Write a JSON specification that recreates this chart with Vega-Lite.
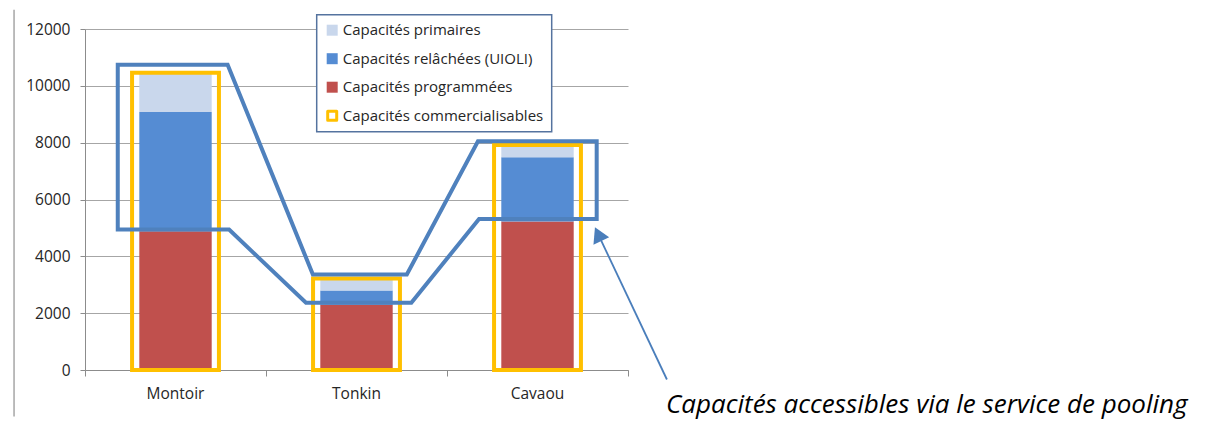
{
  "$schema": "https://vega.github.io/schema/vega-lite/v6.json",
  "width": 543,
  "height": 341,
  "autosize": {"type": "none"},
  "padding": {"left": 85, "top": 29, "right": 580, "bottom": 51},
  "background": "white",
  "config": {
    "view": {"stroke": null},
    "font": "Open Sans",
    "axis": {
      "labelFont": "Open Sans",
      "labelColor": "#262626",
      "domainColor": "#8C8C8C",
      "tickColor": "#8C8C8C",
      "gridColor": "#A6A6A6",
      "title": null
    }
  },
  "datasets": {
    "bars": [
      {"site": "Montoir", "serie": "Capacités programmées", "k": 1, "value": 4880},
      {"site": "Montoir", "serie": "Capacités relâchées (UIOLI)", "k": 2, "value": 4200},
      {"site": "Montoir", "serie": "Capacités primaires", "k": 3, "value": 1370},
      {"site": "Tonkin", "serie": "Capacités programmées", "k": 1, "value": 2300},
      {"site": "Tonkin", "serie": "Capacités relâchées (UIOLI)", "k": 2, "value": 500},
      {"site": "Tonkin", "serie": "Capacités primaires", "k": 3, "value": 430},
      {"site": "Cavaou", "serie": "Capacités programmées", "k": 1, "value": 5230},
      {"site": "Cavaou", "serie": "Capacités relâchées (UIOLI)", "k": 2, "value": 2260},
      {"site": "Cavaou", "serie": "Capacités primaires", "k": 3, "value": 420}
    ],
    "comm": [
      {"site": "Montoir", "total": 10460},
      {"site": "Tonkin", "total": 3220},
      {"site": "Cavaou", "total": 7915}
    ],
    "poly": [
      {"i": 1, "x": 0.181, "y": 10746},
      {"i": 2, "x": 0.788, "y": 10746},
      {"i": 3, "x": 1.259, "y": 3359},
      {"i": 4, "x": 1.778, "y": 3359},
      {"i": 5, "x": 2.171, "y": 8048},
      {"i": 6, "x": 2.827, "y": 8048},
      {"i": 7, "x": 2.827, "y": 5318},
      {"i": 8, "x": 2.177, "y": 5318},
      {"i": 9, "x": 1.803, "y": 2364},
      {"i": 10, "x": 1.221, "y": 2364},
      {"i": 11, "x": 0.796, "y": 4942},
      {"i": 12, "x": 0.181, "y": 4942},
      {"i": 13, "x": 0.181, "y": 10746}
    ],
    "arrow": [
      {"i": 1, "x": 3.215, "y": -334},
      {"i": 2, "x": 2.835, "y": 4780}
    ],
    "head": [
      {"x": 2.835, "y": 4780}
    ],
    "note": [
      {"x": 3.21, "y": -1530, "label": "Capacités accessibles via le service de pooling"}
    ],
    "ruler": [
      {"x": -0.392, "y": 12680, "y2": -1636}
    ]
  },
  "layer": [
    {
      "encoding": {
        "x": {
          "field": "site",
          "type": "nominal",
          "sort": ["Montoir", "Tonkin", "Cavaou"],
          "scale": {"paddingInner": 0, "paddingOuter": 0},
          "axis": {
            "orient": "bottom",
            "ticks": false,
            "domain": false,
            "grid": false,
            "labelAngle": 0,
            "labelFontSize": 15.5,
            "labelPadding": 16,
            "title": null
          }
        }
      },
      "layer": [
        {
          "data": {"name": "bars"},
          "mark": {"type": "bar", "width": {"band": 0.4}},
          "encoding": {
            "y": {
              "field": "value",
              "type": "quantitative",
              "stack": "zero",
              "title": null,
              "scale": {"domain": [0, 12000], "nice": false},
              "axis": {
                "values": [0, 2000, 4000, 6000, 8000, 10000, 12000],
                "format": "d",
                "grid": true,
                "tickSize": 5,
                "labelPadding": 10,
                "labelFontSize": 15.5,
                "title": null
              }
            },
            "color": {
              "field": "serie",
              "type": "nominal",
              "scale": {
                "domain": ["Capacités primaires", "Capacités relâchées (UIOLI)", "Capacités programmées", "Capacités commercialisables"],
                "range": ["#C9D7EC", "#558CD3", "#C0504D", "#FFC000"]
              },
              "legend": {
                "orient": "none",
                "legendX": 231.7,
                "legendY": -14.3,
                "title": null,
                "padding": 8,
                "strokeColor": "#55739F",
                "fillColor": "white",
                "rowPadding": 12.5,
                "labelFontSize": 15,
                "labelFont": "Open Sans",
                "labelColor": "#262626",
                "symbolType": "square",
                "symbolSize": 121,
                "symbolStrokeWidth": 0,
                "labelOffset": 3,
                "labelLimit": 400,
                "encode": {
                  "legend": {"update": {"strokeWidth": {"value": 1.5}}},
                  "symbols": {
                    "enter": {
                      "fillOpacity": {"signal": "datum.value === 'Capacités commercialisables' ? 0 : 1"}
                    },
                    "update": {
                      "fill": {"signal": "datum.value === 'Capacités commercialisables' ? '#ffffff' : scale('color', datum.value)"},
                      "fillOpacity": {"signal": "datum.value === 'Capacités commercialisables' ? 0 : 1"},
                      "stroke": {"signal": "datum.value === 'Capacités commercialisables' ? '#FFC000' : 'transparent'"},
                      "strokeWidth": {"signal": "datum.value === 'Capacités commercialisables' ? 3 : 0"},
                      "strokeJoin": {"value": "round"},
                      "size": {"signal": "datum.value === 'Capacités commercialisables' ? 81 : 121"}
                    }
                  }
                }
              }
            },
            "order": {"field": "k", "type": "quantitative"}
          }
        },
        {
          "data": {"name": "comm"},
          "mark": {"type": "bar", "width": {"band": 0.48}, "filled": false, "color": "#FFC000", "strokeWidth": 4},
          "encoding": {
            "y": {"field": "total", "type": "quantitative", "title": null, "scale": {"domain": [0, 12000], "nice": false}}
          }
        }
      ]
    },
    {
      "encoding": {
        "x": {
          "field": "x",
          "type": "quantitative",
          "scale": {"domain": [0, 3], "nice": false, "zero": false},
          "axis": {
            "orient": "bottom",
            "values": [0, 1, 2, 3],
            "labels": false,
            "tickSize": 6,
            "grid": false,
            "domain": true,
            "title": null
          }
        }
      },
      "layer": [
        {
          "data": {"name": "poly"},
          "mark": {"type": "line", "color": "#4F81BD", "strokeWidth": 4, "strokeJoin": "miter", "strokeCap": "square", "clip": false},
          "encoding": {
            "y": {"field": "y", "type": "quantitative", "title": null, "scale": {"domain": [0, 12000], "nice": false}},
            "order": {"field": "i", "type": "quantitative"}
          }
        },
        {
          "data": {"name": "arrow"},
          "mark": {"type": "line", "color": "#4A7EBB", "strokeWidth": 1.8, "clip": false},
          "encoding": {
            "y": {"field": "y", "type": "quantitative", "title": null, "scale": {"domain": [0, 12000], "nice": false}},
            "order": {"field": "i", "type": "quantitative"}
          }
        },
        {
          "data": {"name": "head"},
          "mark": {"type": "point", "shape": "triangle-up", "filled": true, "color": "#4A7EBB", "size": 300, "angle": 335, "opacity": 1, "clip": false},
          "encoding": {
            "y": {"field": "y", "type": "quantitative", "title": null, "scale": {"domain": [0, 12000], "nice": false}}
          }
        },
        {
          "data": {"name": "note"},
          "mark": {"type": "text", "align": "left", "baseline": "alphabetic", "font": "Open Sans", "fontStyle": "italic", "fontSize": 26, "color": "#000000", "clip": false},
          "encoding": {
            "y": {"field": "y", "type": "quantitative", "title": null, "scale": {"domain": [0, 12000], "nice": false}},
            "text": {"field": "label"}
          }
        },
        {
          "data": {"name": "ruler"},
          "mark": {"type": "rule", "color": "#A6A6A6", "strokeWidth": 1.5, "clip": false},
          "encoding": {
            "y": {"field": "y", "type": "quantitative", "title": null, "scale": {"domain": [0, 12000], "nice": false}},
            "y2": {"field": "y2"}
          }
        }
      ]
    }
  ],
  "resolve": {"scale": {"x": "independent"}}
}
